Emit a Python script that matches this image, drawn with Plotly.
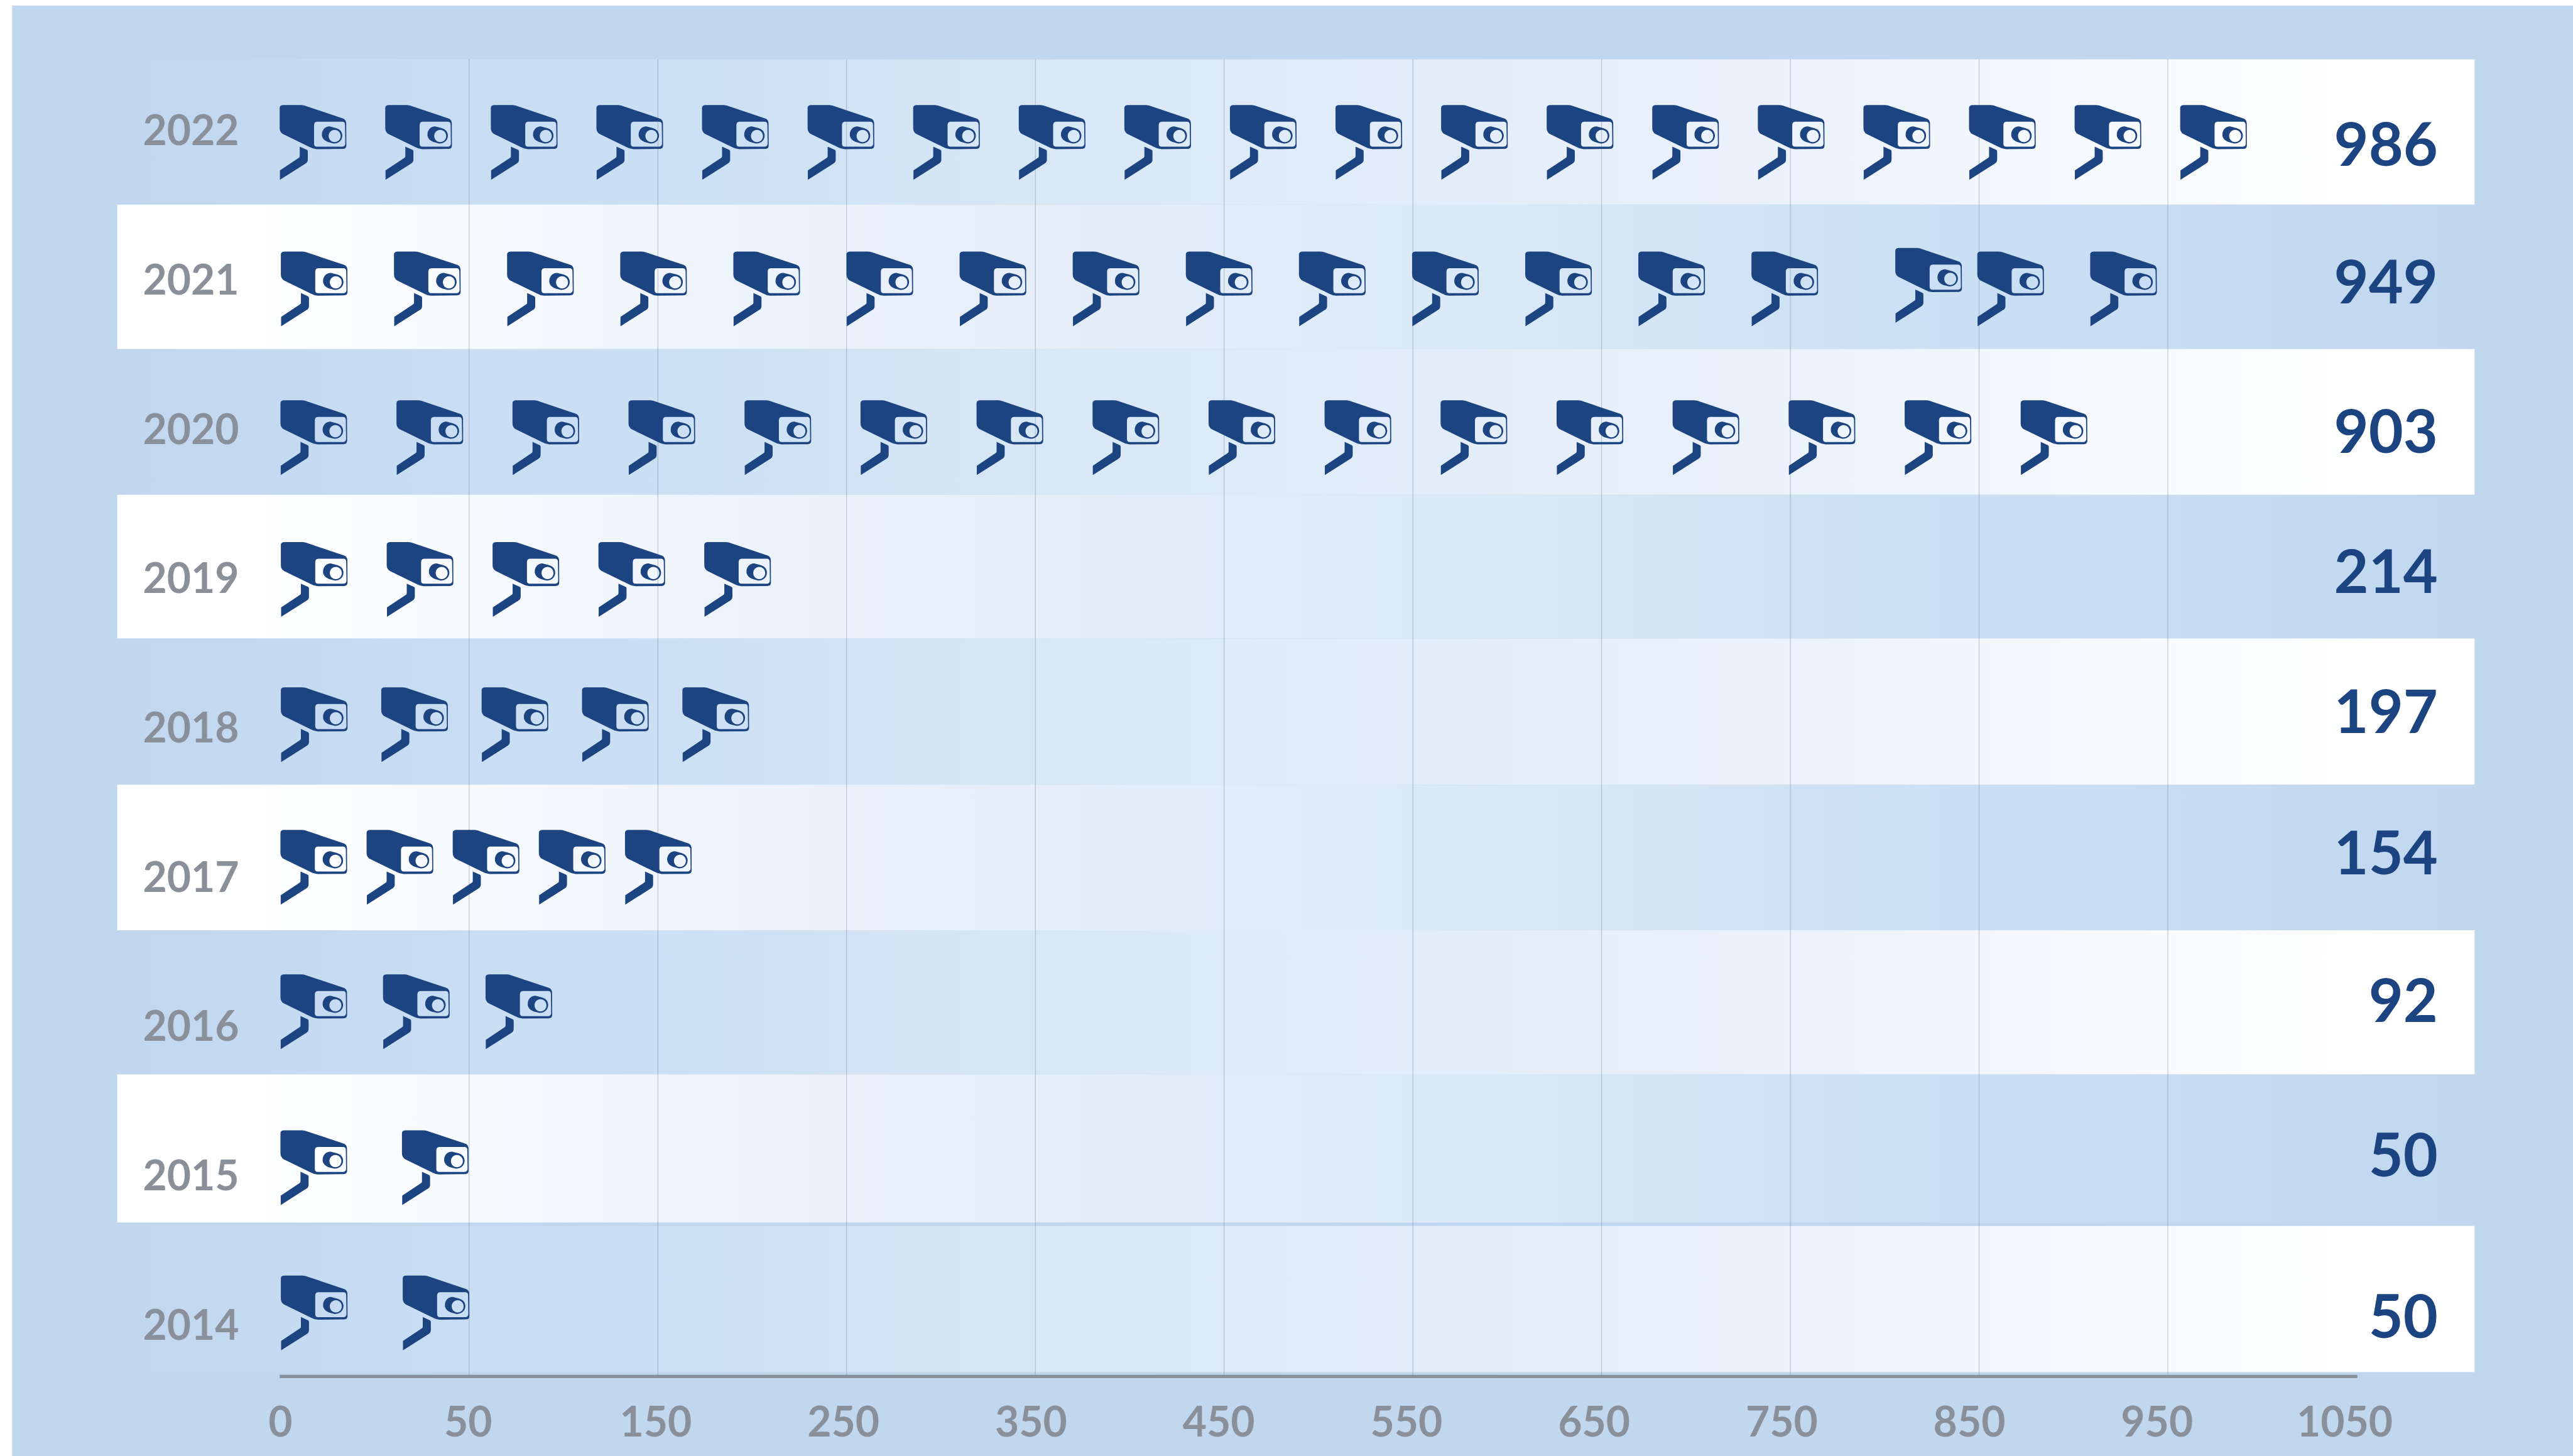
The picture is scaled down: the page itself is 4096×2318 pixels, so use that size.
import plotly.graph_objects as go

years = [2022, 2021, 2020, 2019, 2018, 2017, 2016, 2015, 2014]
values = [986, 949, 903, 214, 197, 154, 92, 50, 50]
x_tick_labels = ["0", "50", "150", "250", "350", "450", "550", "650", "750", "850", "950", "1050"]
icon_counts = [19, 14, 16, 5, 5, 5, 3, 2, 2]

W, H = 6587, 3728
S = 4096 / W
X0, X_STEP = 718.0, 480.4      # reference px of the "0" tick, px per tick
Y0, Y_STEP = 335.0, 382.25     # reference px of the 2022 tick, px per year


def px2x(p):
    return (p - X0) / X_STEP


def px2y(p):
    return 2022 - (p - Y0) / Y_STEP


BLUE = "#c1d7ee"
NAVY = "#1c4481"
GREY = "#8a9099"
FONT = "Lato"

row_tops = [152, 524, 894, 1267, 1635, 2009, 2382, 2751, 3139]
row_bottoms = [524, 894, 1267, 1635, 2009, 2382, 2751, 3130, 3513]
ROW_L, ROW_R = 300, 6335
ramp = [(0, "#ffffff"), (0.04, "#ffffff"), (0.15, "#f7fafd"), (0.22, "#f1f6fc"), (0.31, "#eaf1fb"),
        (0.39, "#e5eef9"), (0.47, "#e1ecf8"), (0.61, "#d8e7f6"), (0.71, "#cfe2f4"), (0.79, "#cbdff4"),
        (0.89, "#c7dcf2"), (1, "#c1d7ef")]
ramp_rev = [(round(1 - p, 4), c) for p, c in reversed(ramp)]

icon_left = [716, 719, 718, 719, 719, 718, 718, 718, 719]
icon_step = [270.3, 289.6, 297, 271, 257, 220.5, 262.5, 311, 312]
icon_top = [269, 644, 1025, 1388, 1760, 2125, 2495, 2894, 3266]
extra_icons_2021 = [(4852, 635), (5062, 644), (5351, 644)]

value_y = [365, 718, 1100, 1459, 1817, 2180, 2558, 2953, 3366]
VALUE_DY = 21
VALUE_RIGHT = 6241

# camera glyph, traced in a 3x crop of the reference
ICON_W0, ICON_H0 = 106, 88
k = 0.5523
cx, cy, rx, ry = 528, 325, 46, 47
glyph = [
    ("M", 106, 110), ("Q", 106, 88, 135, 88), ("L", 270, 88), ("Q", 285, 88, 300, 93),
    ("L", 590, 190), ("Q", 615, 198, 617, 225), ("L", 618, 400), ("Q", 617, 425, 590, 425),
    ("L", 390, 427), ("Q", 360, 425, 335, 410), ("L", 130, 310), ("Q", 106, 295, 106, 265), ("Z",),
    ("M", 370, 240), ("Q", 372, 217, 392, 216), ("L", 590, 216), ("Q", 608, 218, 608, 240),
    ("L", 610, 385), ("Q", 608, 408, 585, 408), ("L", 392, 408), ("Q", 370, 408, 370, 385), ("Z",),
    ("M", 430, 315), ("C", 430, 275, 460, 250, 490, 252), ("L", 540, 265),
    ("C", 575, 275, 588, 300, 587, 325), ("C", 585, 365, 550, 385, 520, 383), ("L", 480, 373),
    ("C", 445, 360, 430, 340, 430, 315), ("Z",),
    ("M", cx - rx, cy),
    ("C", cx - rx, cy - k * ry, cx - k * rx, cy - ry, cx, cy - ry),
    ("C", cx + k * rx, cy - ry, cx + rx, cy - k * ry, cx + rx, cy),
    ("C", cx + rx, cy + k * ry, cx + k * rx, cy + ry, cx, cy + ry),
    ("C", cx - k * rx, cy + ry, cx - rx, cy + k * ry, cx - rx, cy), ("Z",),
    ("M", 260, 407), ("L", 315, 432), ("Q", 322, 436, 322, 445), ("L", 322, 510),
    ("Q", 320, 530, 300, 540), ("L", 108, 662), ("L", 108, 590), ("L", 255, 492),
    ("Q", 260, 488, 260, 480), ("Z",),
]


def glyph_path():
    out = []
    for seg in glyph:
        nums = seg[1:]
        pts = []
        for i in range(0, len(nums), 2):
            px_x = (nums[i] - ICON_W0) / 3 * S
            px_y = -(nums[i + 1] - ICON_H0) / 3 * S
            pts.append(f"{px_x:.2f},{px_y:.2f}")
        out.append(seg[0] + " ".join(pts))
    return " ".join(out)


ICON_PATH = glyph_path()


def icon_shape(left, top):
    return dict(type="path", path=ICON_PATH, xref="x", yref="y", xsizemode="pixel", ysizemode="pixel",
                xanchor=px2x(left), yanchor=px2y(top), fillcolor=NAVY, line=dict(width=0),
                fillrule="evenodd", layer="above")


fig = go.Figure()

for i, yr in enumerate(years):
    scale = ramp if i % 2 else ramp_rev
    fig.add_trace(go.Scatter(
        x=[px2x(ROW_L), px2x(ROW_R), px2x(ROW_R), px2x(ROW_L), px2x(ROW_L)],
        y=[px2y(row_tops[i]), px2y(row_tops[i]), px2y(row_bottoms[i]), px2y(row_bottoms[i]), px2y(row_tops[i])],
        mode="lines", line=dict(width=0), fill="toself",
        fillgradient=dict(type="horizontal", colorscale=scale),
        hoverinfo="skip", showlegend=False, name=str(yr)))

# axis line
fig.add_trace(go.Scatter(x=[px2x(716), px2x(6035)], y=[px2y(3524.5)] * 2, mode="lines",
                         line=dict(color=GREY, width=5.3), hoverinfo="skip", showlegend=False))

# grid lines
gx, gy = [], []
for j in range(10):
    p = px2x(1201 + 483.2 * j)
    gx += [p, p, None]
    gy += [px2y(152), px2y(3523), None]
fig.add_trace(go.Scatter(x=gx, y=gy, mode="lines", line=dict(color="rgba(115,132,155,0.5)", width=1),
                         hoverinfo="skip", showlegend=False))

# value labels
fig.add_trace(go.Scatter(x=[px2x(VALUE_RIGHT)] * len(values), y=[px2y(v + VALUE_DY) for v in value_y],
                         mode="text", text=[str(v) for v in values], textposition="middle left",
                         textfont=dict(family=FONT, size=95, color=NAVY, weight=700),
                         hoverinfo="skip", showlegend=False))

shapes = [dict(type="rect", xref="paper", yref="paper", x0=31 / W, x1=1, y0=0, y1=1 - 14 / H,
               fillcolor=BLUE, line=dict(width=0), layer="below")]
for i in range(len(years)):
    for n in range(icon_counts[i]):
        shapes.append(icon_shape(icon_left[i] + n * icon_step[i], icon_top[i]))
for left, top in extra_icons_2021:
    shapes.append(icon_shape(left, top))

fig.update_layout(
    width=4096, height=2318, margin=dict(l=0, r=0, t=0, b=0), autosize=False,
    paper_bgcolor="white", plot_bgcolor="rgba(0,0,0,0)", showlegend=False, shapes=shapes,
    xaxis=dict(domain=[0, 1], range=[px2x(0), px2x(W)], tickmode="array", tickvals=list(range(len(x_tick_labels))),
               ticktext=x_tick_labels, showgrid=False, zeroline=False, showline=False, anchor="free",
               position=1 - 3524 / H, ticks="outside", ticklen=16, tickcolor="rgba(0,0,0,0)",
               tickfont=dict(family=FONT, size=66, color=GREY, weight=700)),
    yaxis=dict(domain=[0, 1], range=[px2y(H), px2y(0)], tickmode="array", tickvals=years,
               ticktext=[str(y) for y in years], showgrid=False, zeroline=False, showline=False, anchor="free",
               position=612 / W, ticks="", tickfont=dict(family=FONT, size=66, color=GREY, weight=700)),
)

fig.write_html("out.html", config=dict(displayModeBar=False),
               post_script="document.body.style.margin='0';document.body.style.overflow='hidden';")
